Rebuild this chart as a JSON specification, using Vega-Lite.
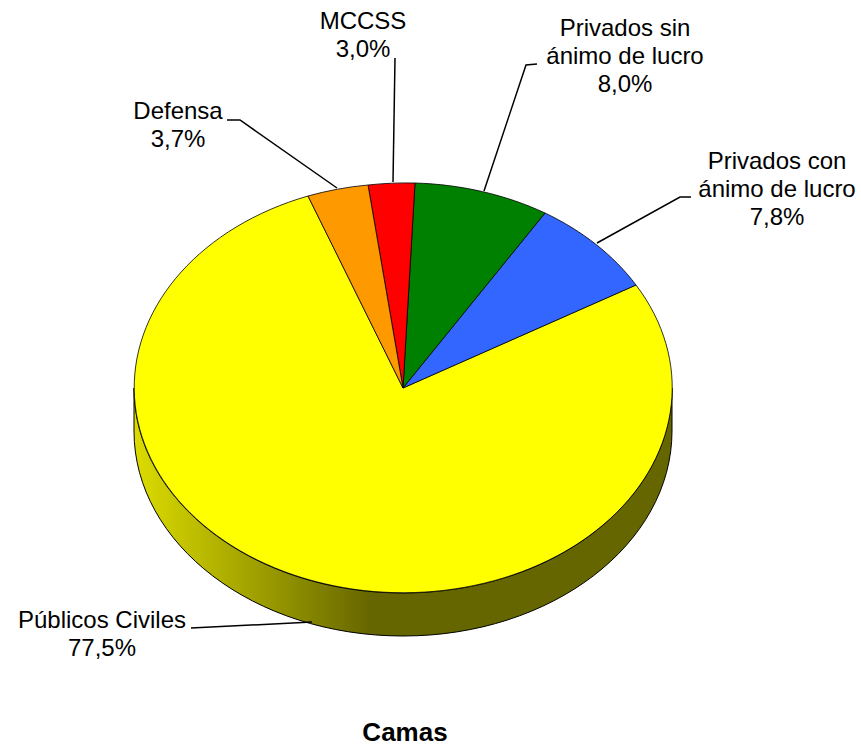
{
  "$schema": "https://vega.github.io/schema/vega-lite/v6.json",
  "width": 860,
  "height": 720,
  "padding": 0,
  "autosize": {"type": "pad"},
  "background": "white",
  "config": {"view": {"stroke": null}},
  "title": {"text": "Camas", "orient": "bottom", "anchor": "middle", "dx": -25, "offset": 0, "font": "Liberation Sans", "fontSize": 26, "fontWeight": "bold", "color": "black"},
  "data": {"values": [
    {"categoria": "Públicos Civiles", "share": 77.5, "etiqueta": "Públicos Civiles\n77,5%"},
    {"categoria": "Privados con ánimo de lucro", "share": 7.8, "etiqueta": "Privados con\nánimo de lucro\n7,8%"},
    {"categoria": "Privados sin ánimo de lucro", "share": 8.0, "etiqueta": "Privados sin\nánimo de lucro\n8,0%"},
    {"categoria": "MCCSS", "share": 3.0, "etiqueta": "MCCSS\n3,0%"},
    {"categoria": "Defensa", "share": 3.7, "etiqueta": "Defensa\n3,7%"}
  ]},
  "resolve": {"scale": {"shape": "independent", "fill": "independent"}},
  "layer": [
    {
      "transform": [{"filter": "datum.categoria === 'Públicos Civiles'"}],
      "mark": {"type": "point", "filled": true, "size": 4, "opacity": 1, "stroke": "black", "strokeWidth": 1,
        "fill": {"gradient": "linear", "x1": 0, "x2": 1, "y1": 0, "y2": 0, "stops": [
          {"offset": 0, "color": "#dcdc00"},
          {"offset": 0.44, "color": "#666600"},
          {"offset": 1, "color": "#666600"}
        ]}},
      "encoding": {
        "shape": {"field": "categoria", "type": "nominal", "legend": null, "scale": {
          "domain": ["Públicos Civiles"],
          "range": ["M-296,28 A269,205 0 0 0 242,28 L242,71 A269,205 0 0 1 -296,71 Z"]
        }}
      }
    },
    {
      "mark": {"type": "point", "filled": true, "size": 4, "opacity": 1, "stroke": "black", "strokeWidth": 0.8},
      "encoding": {
        "shape": {"field": "categoria", "type": "nominal", "legend": null, "scale": {
          "domain": ["Públicos Civiles", "Privados con ánimo de lucro", "Privados sin ánimo de lucro", "MCCSS", "Defensa"],
          "range": [
            "M-27,28 L-122,-164 A269,205 0 1 0 206,-75 Z",
            "M-27,28 L206,-75 A269,205 0 0 0 115,-147 Z",
            "M-27,28 L115,-147 A269,205 0 0 0 -15,-177 Z",
            "M-27,28 L-15,-177 A269,205 0 0 0 -62,-175 Z",
            "M-27,28 L-62,-175 A269,205 0 0 0 -122,-164 Z"
          ]
        }},
        "fill": {"field": "categoria", "type": "nominal", "legend": null, "scale": {
          "domain": ["Públicos Civiles", "Privados con ánimo de lucro", "Privados sin ánimo de lucro", "MCCSS", "Defensa"],
          "range": ["#ffff00", "#3366ff", "#008000", "#ff0000", "#ff9900"]
        }}
      }
    },
    {
      "mark": {"type": "point", "filled": false, "size": 4, "opacity": 1, "stroke": "black", "strokeWidth": 1.5, "fill": null},
      "encoding": {
        "shape": {"field": "categoria", "type": "nominal", "legend": null, "scale": {
          "domain": ["Públicos Civiles", "Privados con ánimo de lucro", "Privados sin ánimo de lucro", "MCCSS", "Defensa"],
          "range": [
            "M-239,268 L-118,262",
            "M261,-163 L250,-163 L167,-117",
            "M107,-296 L96,-295 L54,-169",
            "M-35,-302 L-37,-178",
            "M-203,-240 L-190,-240 L-93,-172"
          ]
        }}
      }
    },
    {
      "mark": {"type": "text", "font": "Liberation Sans", "fontSize": 24, "lineHeight": 28, "lineBreak": "\n", "align": "center", "baseline": "middle", "color": "black"},
      "encoding": {
        "text": {"field": "etiqueta", "type": "nominal"},
        "x": {"field": "share", "type": "quantitative", "axis": null, "scale": {"domain": [3.0, 3.7, 7.8, 8.0, 77.5], "range": [363, 178, 777, 625, 102]}},
        "y": {"field": "share", "type": "quantitative", "axis": null, "scale": {"domain": [3.0, 3.7, 7.8, 8.0, 77.5], "range": [22, 112, 162, 29, 621]}}
      }
    }
  ]
}
